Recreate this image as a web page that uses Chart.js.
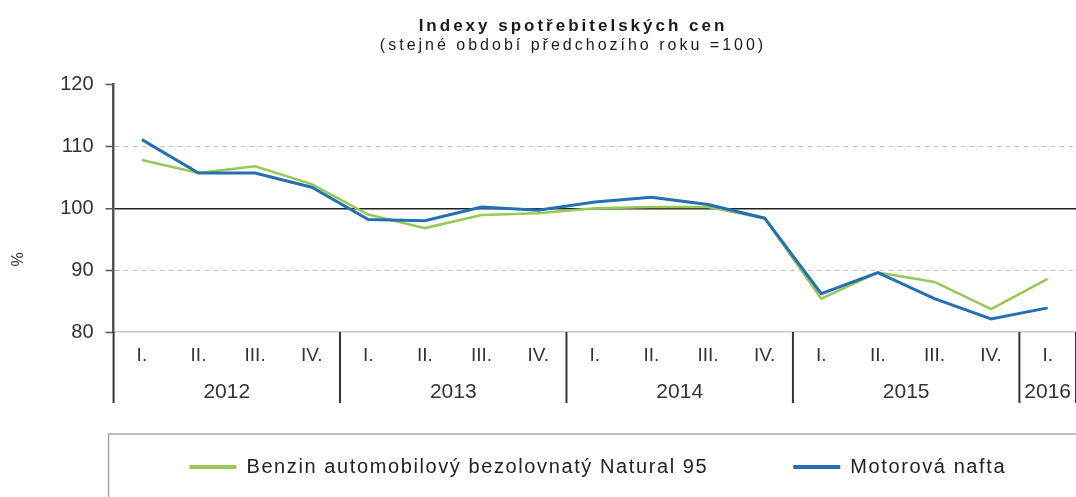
<!DOCTYPE html>
<html>
<head>
<meta charset="utf-8">
<script src="https://cdn.jsdelivr.net/npm/chart.js@4"></script>
<style>
html,body{margin:0;padding:0;background:#fff;overflow:hidden}
#wrap{position:relative;width:1076px;height:520px}
</style>
</head>
<body>
<div id="wrap"><canvas id="cpi"></canvas></div>
<script>
const quarters = ['I.','II.','III.','IV.','I.','II.','III.','IV.','I.','II.','III.','IV.','I.','II.','III.','IV.','I.']
const years = ['2012','2013','2014','2015','2016']
const quartersPerYear = [4,4,4,4,1]
const yTicks = [80,90,100,110,120]

const benzin = [107.8,105.7,106.8,103.9,99.0,96.8,98.9,99.2,100.0,100.2,100.2,98.4,85.4,89.6,88.1,83.7,88.6]
const nafta = [111.1,105.7,105.7,103.4,98.2,98.0,100.2,99.7,101.0,101.8,100.6,98.4,86.2,89.6,85.4,82.1,83.9]

// year edges and centres on the quarter index scale
let yearEdges = [-0.5], yearMids = []
let start = -0.5
quartersPerYear.forEach(n => { yearMids.push(start + n / 2); start += n; yearEdges.push(start) })

Chart.defaults.font.family = "'Liberation Sans', Arial, sans-serif"
Chart.defaults.color = '#333'

// letter spacing for the wide texts of the original
function spaceText(box, ls){
  ['fit','draw'].forEach(fn => {
    const orig = box[fn]
    box[fn] = function(...args){
      const ctx = this.ctx
      const prev = ctx.letterSpacing
      ctx.letterSpacing = ls
      const r = orig.apply(this, args)
      ctx.letterSpacing = prev
      return r
    }
  })
}

const tweaks = {
  id: 'tweaks',
  afterInit(chart){
    chart.boxes.forEach(b => spaceText(b, b === chart.legend ? '1.6px' : '3px'))
  },
  afterLayout(chart){
    const scaleSet = new Set(Object.values(chart.scales))
    chart.boxes.forEach(b => {
      if (b !== chart.legend && !scaleSet.has(b)) b.left += 70
    })
    // the "%" sits lower than the middle of the plot
    const ys = chart.scales.y
    if (!ys._lowTitle) {
      const orig = ys.drawTitle
      ys.drawTitle = function(){ this.ctx.save(); this.ctx.translate(0, 51); orig.call(this); this.ctx.restore() }
      ys._lowTitle = true
    }
    // legend row sits inside a frame below the year labels
    const lg = chart.legend
    const pad = lg.options.labels.padding
    const dy = (chart.scales.x2.bottom + 52) - (lg.top + pad)
    lg.top += dy
    lg.bottom += dy
    const mid = (chart.chartArea.left - 5 + chart.width + 11) / 2
    lg.left = mid - 540
    lg.right = mid + 540
  },
  afterDraw(chart){
    const ctx = chart.ctx, xs = chart.scales.x2, lg = chart.legend
    const pad = lg.options.labels.padding
    ctx.save()
    // year separators through the label rows
    ctx.strokeStyle = '#333'
    ctx.lineWidth = 2
    yearEdges.forEach(v => {
      const px = xs.getPixelForValue(v)
      ctx.beginPath()
      ctx.moveTo(px, chart.chartArea.bottom)
      ctx.lineTo(px, xs.bottom - 2)
      ctx.stroke()
    })
    // legend frame
    ctx.strokeStyle = '#a6a6a6'
    ctx.lineWidth = 1.5
    ctx.strokeRect(chart.chartArea.left - 5, lg.top + pad - 23, chart.width + 16 - chart.chartArea.left, 200)
    ctx.restore()
  }
}

const isDashed = c => c.tick && (c.tick.value === 110 || c.tick.value === 90)

new Chart(document.getElementById('cpi'), {
  type: 'line',
  data: {
    labels: quarters,
    datasets: [
      {label: 'Benzin automobilový bezolovnatý Natural 95', data: benzin, borderColor: '#96c957', backgroundColor: '#96c957', borderWidth: 2.5, order: 2},
      {label: 'Motorová nafta', data: nafta, borderColor: '#2470b3', backgroundColor: '#2470b3', borderWidth: 3, order: 1}
    ]
  },
  options: {
    responsive: true,
    maintainAspectRatio: false,
    animation: false,
    layout: {padding: 0},
    elements: {point: {radius: 0}, line: {tension: 0}},
    plugins: {
      tooltip: {enabled: false},
      title: {display: true, text: 'Indexy spotřebitelských cen', color: '#1a1a1a', font: {size: 17, weight: 'bold'}, padding: {top: 16, bottom: 0}},
      subtitle: {display: true, text: '(stejné období předchozího roku =100)', color: '#1a1a1a', font: {size: 16}, padding: {top: 0, bottom: 29}},
      legend: {
        position: 'bottom',
        labels: {
          boxWidth: 47, boxHeight: 4, padding: 85, color: '#222', font: {size: 20},
          sort: (a, b) => a.datasetIndex - b.datasetIndex,
          generateLabels: ch => Chart.defaults.plugins.legend.labels.generateLabels(ch).map(l => Object.assign(l, {lineWidth: 0}))
        }
      }
    },
    scales: {
      x: {
        type: 'category', position: 'bottom', offset: true, weight: 0,
        grid: {display: false, drawTicks: false},
        border: {color: '#c8c8c8', width: 1.5},
        ticks: {autoSkip: false, maxRotation: 0, padding: 12.5, color: '#333', font: {size: 19}}
      },
      x2: {
        type: 'linear', position: 'bottom', min: -0.5, max: 16.5, weight: 1,
        afterBuildTicks: s => { s.ticks = yearMids.map(v => ({value: v})) },
        grid: {display: false, drawTicks: false},
        border: {display: false},
        ticks: {
          autoSkip: false, maxRotation: 0, padding: 0, color: '#333', font: {size: 21},
          callback: v => { const i = yearMids.indexOf(v); return i >= 0 ? years[i] : '' }
        }
      },
      y: {
        min: 80, max: 120,
        afterBuildTicks: s => { s.ticks = yTicks.map(v => ({value: v})) },
        title: {display: true, text: '%', color: '#333', font: {size: 16}, padding: {top: 9, bottom: 20}},
        ticks: {color: '#333', font: {size: 20}, padding: 12},
        grid: {
          color: c => c.tick && c.tick.value === 100 ? '#222' : (isDashed(c) ? '#c4c4c4' : 'transparent'),
          lineWidth: c => c.tick && c.tick.value === 100 ? 1.5 : 1,
          tickLength: 8, tickColor: '#555', tickWidth: 1.5
        },
        border: {color: '#555', width: 2.5, dash: c => isDashed(c) ? [5, 4] : []}
      }
    }
  },
  plugins: [tweaks]
})
</script>
</body>
</html>
